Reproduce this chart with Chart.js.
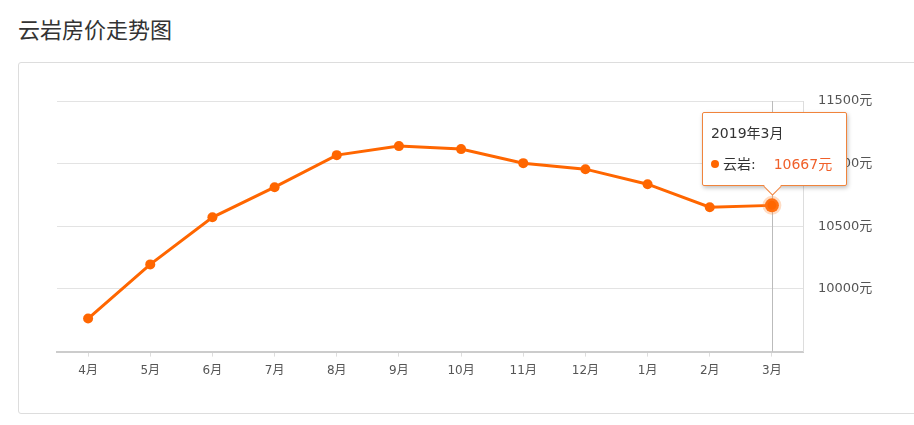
<!DOCTYPE html>
<html>
<head>
<meta charset="utf-8">
<script src="https://cdn.jsdelivr.net/npm/chart.js@4"></script>
<style>
    html, body { margin: 0; padding: 0; background: #fff; width: 914px; height: 425px; overflow: hidden; }
    body { position: relative; font-family: "DejaVu Sans", "Noto Sans CJK SC", sans-serif; }
    #title { position: absolute; left: 18px; top: 13px; font-size: 22px; color: #333; line-height: 30px; font-family: "Noto Sans CJK SC", sans-serif; }
    #box { position: absolute; left: 18px; top: 62px; width: 920px; height: 350px; border: 1px solid #ddd; border-radius: 3px; }
    #wrap { position: absolute; left: 0; top: 0; width: 914px; height: 425px; }
    #tip {
        position: absolute; width: 143px; height: 72px; background: #fff;
        border: 1px solid #f0843c; border-radius: 2px; box-shadow: 1px 2px 4px rgba(0,0,0,0.25);
        font-size: 14px; color: #333; display: none;
    }
    #tip .t { position: absolute; left: 8px; top: 9px; }
    #tip .b { position: absolute; left: 8px; top: 40px; white-space: nowrap; }
    #tip .dot { display: inline-block; width: 8px; height: 8px; border-radius: 4px; background: #ff6600; margin-right: 4px; vertical-align: 1px; }
    #tip .v { color: #f0602a; margin-left: 18px; }
    #tip .arr { position: absolute; left: 63px; bottom: -8px; width: 12px; height: 12px; background: #fff;
        border-right: 1px solid #f0843c; border-bottom: 1px solid #f0843c; transform: rotate(45deg); }
</style>
</head>
<body>
<div id="title">云岩房价走势图</div>
<div id="box"></div>
<div id="wrap"><canvas id="priceChart" width="914" height="425"></canvas></div>
<div id="tip"><div class="arr"></div><div class="t"></div><div class="b"></div></div>
<script>
// chart data
const months = ['4月', '5月', '6月', '7月', '8月', '9月', '10月', '11月', '12月', '1月', '2月', '3月'];
const fullMonths = ['2018年4月', '2018年5月', '2018年6月', '2018年7月', '2018年8月', '2018年9月',
    '2018年10月', '2018年11月', '2018年12月', '2019年1月', '2019年2月', '2019年3月'];
const prices = [9764, 10196, 10572, 10812, 11068, 11140, 11116, 11004, 10956, 10836, 10652, 10667];
const yTicks = [9500, 10000, 10500, 11000, 11500];
const seriesName = '云岩';
const activeIndex = 11;

const orange = '#ff6600';
const tickFont = { size: 12, family: '"DejaVu Sans", "Noto Sans CJK SC", sans-serif' };

// vertical pointer line at the active point
const pointerLine = {
    id: 'pointerLine',
    beforeDatasetsDraw(chart) {
        const el = chart.getDatasetMeta(0).data[activeIndex];
        const { ctx, chartArea } = chart;
        ctx.save();
        ctx.strokeStyle = '#bbb';
        ctx.lineWidth = 1;
        ctx.beginPath();
        ctx.moveTo(Math.round(el.x) + 0.5, chartArea.top);
        ctx.lineTo(Math.round(el.x) + 0.5, chartArea.bottom);
        ctx.stroke();
        ctx.restore();
    }
};

// html tooltip fixed on the last month
function showTip(chart) {
    const el = chart.getDatasetMeta(0).data[activeIndex];
    const tip = document.getElementById('tip');
    tip.querySelector('.t').textContent = fullMonths[activeIndex];
    tip.querySelector('.b').innerHTML = `<span class="dot"></span>${seriesName}:<span class="v">${prices[activeIndex]}元</span>`;
    tip.style.left = (el.x - 70) + 'px';
    tip.style.top = (el.y - 93) + 'px';
    tip.style.display = 'block';
}

const ctx = document.getElementById('priceChart').getContext('2d');
const priceChart = new Chart(ctx, {
    type: 'line',
    data: {
        labels: months,
        datasets: [{
            label: seriesName,
            data: prices,
            borderColor: orange,
            backgroundColor: orange,
            borderWidth: 3,
            tension: 0,
            pointRadius: prices.map((v, i) => i === activeIndex ? 7 : 5),
            pointBorderWidth: prices.map((v, i) => i === activeIndex ? 5 : 0),
            pointBorderColor: prices.map((v, i) => i === activeIndex ? 'rgba(255,140,60,0.3)' : orange),
            pointBackgroundColor: orange
        }]
    },
    options: {
        responsive: false,
        animation: false,
        layout: { padding: { left: 57, top: 101, bottom: 40, right: 0 } },
        plugins: {
            legend: { display: false },
            tooltip: { enabled: false }
        },
        scales: {
            x: {
                offset: true,
                grid: { drawOnChartArea: false, color: '#ddd', tickLength: 5 },
                border: { color: '#ccc', width: 2 },
                ticks: { color: '#555', font: tickFont, padding: 7 }
            },
            y: {
                position: 'right',
                min: 9500,
                max: 11500,
                afterBuildTicks: scale => { scale.ticks = yTicks.map(v => ({ value: v })); },
                afterFit: scale => { scale.width = 111; },
                grid: { color: '#e3e3e3', drawTicks: false },
                border: { color: '#ddd' },
                ticks: {
                    color: '#555',
                    padding: 15,
                    font: { ...tickFont, size: 13 },
                    callback: v => v === 9500 ? '' : v + '元'
                }
            }
        }
    },
    plugins: [pointerLine]
});

showTip(priceChart);
</script>
</body>
</html>
